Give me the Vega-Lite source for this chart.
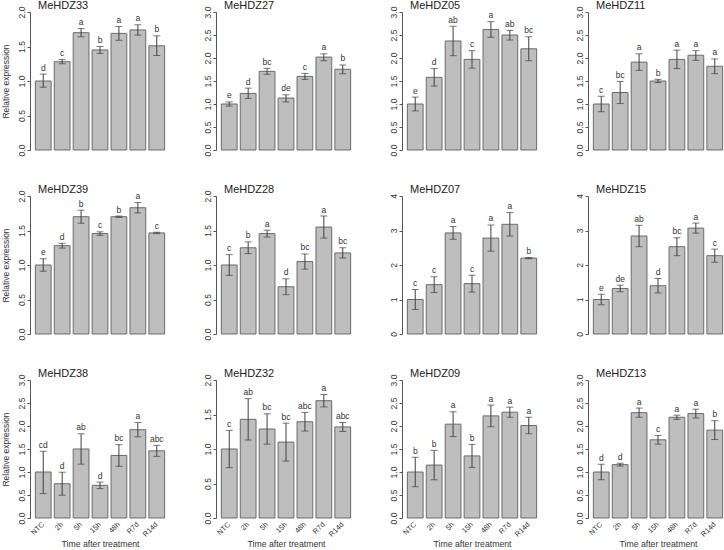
{
  "$schema": "https://vega.github.io/schema/vega-lite/v6.json",
  "padding": {"left": 1, "top": 0, "right": 0, "bottom": 0},
  "background": "white",
  "datasets": {
    "MeHDZ33": [
      {"time": "NTC", "mean": 1.00, "lo": 0.91, "hi": 1.10, "letter": "d"},
      {"time": "2h", "mean": 1.28, "lo": 1.25, "hi": 1.31, "letter": "c"},
      {"time": "5h", "mean": 1.70, "lo": 1.64, "hi": 1.76, "letter": "a"},
      {"time": "15h", "mean": 1.45, "lo": 1.40, "hi": 1.50, "letter": "b"},
      {"time": "48h", "mean": 1.69, "lo": 1.59, "hi": 1.79, "letter": "a"},
      {"time": "R7d", "mean": 1.74, "lo": 1.665, "hi": 1.815, "letter": "a"},
      {"time": "R14d", "mean": 1.51, "lo": 1.37, "hi": 1.655, "letter": "b"}
    ],
    "MeHDZ27": [
      {"time": "NTC", "mean": 1.00, "lo": 0.955, "hi": 1.045, "letter": "e"},
      {"time": "2h", "mean": 1.23, "lo": 1.12, "hi": 1.345, "letter": "d"},
      {"time": "5h", "mean": 1.71, "lo": 1.645, "hi": 1.775, "letter": "bc"},
      {"time": "15h", "mean": 1.13, "lo": 1.045, "hi": 1.20, "letter": "de"},
      {"time": "48h", "mean": 1.60, "lo": 1.535, "hi": 1.665, "letter": "c"},
      {"time": "R7d", "mean": 2.02, "lo": 1.94, "hi": 2.09, "letter": "a"},
      {"time": "R14d", "mean": 1.755, "lo": 1.66, "hi": 1.85, "letter": "b"}
    ],
    "MeHDZ05": [
      {"time": "NTC", "mean": 1.00, "lo": 0.85, "hi": 1.15, "letter": "e"},
      {"time": "2h", "mean": 1.58, "lo": 1.39, "hi": 1.77, "letter": "d"},
      {"time": "5h", "mean": 2.37, "lo": 2.05, "hi": 2.69, "letter": "ab"},
      {"time": "15h", "mean": 1.97, "lo": 1.78, "hi": 2.16, "letter": "c"},
      {"time": "48h", "mean": 2.62, "lo": 2.45, "hi": 2.79, "letter": "a"},
      {"time": "R7d", "mean": 2.50, "lo": 2.39, "hi": 2.60, "letter": "ab"},
      {"time": "R14d", "mean": 2.20, "lo": 1.94, "hi": 2.46, "letter": "bc"}
    ],
    "MeHDZ11": [
      {"time": "NTC", "mean": 1.00, "lo": 0.83, "hi": 1.17, "letter": "c"},
      {"time": "2h", "mean": 1.25, "lo": 1.01, "hi": 1.49, "letter": "bc"},
      {"time": "5h", "mean": 1.91, "lo": 1.73, "hi": 2.09, "letter": "a"},
      {"time": "15h", "mean": 1.50, "lo": 1.465, "hi": 1.535, "letter": "b"},
      {"time": "48h", "mean": 1.97, "lo": 1.77, "hi": 2.17, "letter": "a"},
      {"time": "R7d", "mean": 2.06, "lo": 1.95, "hi": 2.16, "letter": "a"},
      {"time": "R14d", "mean": 1.82, "lo": 1.66, "hi": 1.98, "letter": "a"}
    ],
    "MeHDZ39": [
      {"time": "NTC", "mean": 1.00, "lo": 0.91, "hi": 1.09, "letter": "e"},
      {"time": "2h", "mean": 1.28, "lo": 1.245, "hi": 1.315, "letter": "d"},
      {"time": "5h", "mean": 1.70, "lo": 1.605, "hi": 1.795, "letter": "b"},
      {"time": "15h", "mean": 1.455, "lo": 1.43, "hi": 1.48, "letter": "c"},
      {"time": "48h", "mean": 1.70, "lo": 1.69, "hi": 1.71, "letter": "b"},
      {"time": "R7d", "mean": 1.83, "lo": 1.755, "hi": 1.905, "letter": "a"},
      {"time": "R14d", "mean": 1.465, "lo": 1.455, "hi": 1.475, "letter": "c"}
    ],
    "MeHDZ28": [
      {"time": "NTC", "mean": 1.00, "lo": 0.85, "hi": 1.15, "letter": "c"},
      {"time": "2h", "mean": 1.25, "lo": 1.165, "hi": 1.335, "letter": "b"},
      {"time": "5h", "mean": 1.455, "lo": 1.405, "hi": 1.505, "letter": "a"},
      {"time": "15h", "mean": 0.685, "lo": 0.57, "hi": 0.80, "letter": "d"},
      {"time": "48h", "mean": 1.05, "lo": 0.94, "hi": 1.16, "letter": "bc"},
      {"time": "R7d", "mean": 1.55, "lo": 1.39, "hi": 1.71, "letter": "a"},
      {"time": "R14d", "mean": 1.175, "lo": 1.10, "hi": 1.25, "letter": "bc"}
    ],
    "MeHDZ07": [
      {"time": "NTC", "mean": 1.00, "lo": 0.71, "hi": 1.29, "letter": "c"},
      {"time": "2h", "mean": 1.43, "lo": 1.20, "hi": 1.66, "letter": "c"},
      {"time": "5h", "mean": 2.93, "lo": 2.745, "hi": 3.115, "letter": "a"},
      {"time": "15h", "mean": 1.46, "lo": 1.215, "hi": 1.705, "letter": "c"},
      {"time": "48h", "mean": 2.78, "lo": 2.40, "hi": 3.16, "letter": "a"},
      {"time": "R7d", "mean": 3.18, "lo": 2.84, "hi": 3.52, "letter": "a"},
      {"time": "R14d", "mean": 2.20, "lo": 2.18, "hi": 2.22, "letter": "b"}
    ],
    "MeHDZ15": [
      {"time": "NTC", "mean": 1.00, "lo": 0.85, "hi": 1.15, "letter": "e"},
      {"time": "2h", "mean": 1.32, "lo": 1.225, "hi": 1.415, "letter": "de"},
      {"time": "5h", "mean": 2.84, "lo": 2.53, "hi": 3.15, "letter": "ab"},
      {"time": "15h", "mean": 1.40, "lo": 1.19, "hi": 1.61, "letter": "d"},
      {"time": "48h", "mean": 2.53, "lo": 2.27, "hi": 2.79, "letter": "bc"},
      {"time": "R7d", "mean": 3.07, "lo": 2.925, "hi": 3.215, "letter": "a"},
      {"time": "R14d", "mean": 2.27, "lo": 2.08, "hi": 2.46, "letter": "c"}
    ],
    "MeHDZ38": [
      {"time": "NTC", "mean": 1.00, "lo": 0.53, "hi": 1.45, "letter": "cd"},
      {"time": "2h", "mean": 0.745, "lo": 0.495, "hi": 0.995, "letter": "d"},
      {"time": "5h", "mean": 1.50, "lo": 1.17, "hi": 1.83, "letter": "ab"},
      {"time": "15h", "mean": 0.71, "lo": 0.64, "hi": 0.78, "letter": "d"},
      {"time": "48h", "mean": 1.36, "lo": 1.125, "hi": 1.595, "letter": "bc"},
      {"time": "R7d", "mean": 1.92, "lo": 1.765, "hi": 2.075, "letter": "a"},
      {"time": "R14d", "mean": 1.46, "lo": 1.34, "hi": 1.58, "letter": "abc"}
    ],
    "MeHDZ32": [
      {"time": "NTC", "mean": 1.00, "lo": 0.73, "hi": 1.27, "letter": "c"},
      {"time": "2h", "mean": 1.43, "lo": 1.13, "hi": 1.73, "letter": "ab"},
      {"time": "5h", "mean": 1.29, "lo": 1.07, "hi": 1.51, "letter": "bc"},
      {"time": "15h", "mean": 1.10, "lo": 0.825, "hi": 1.375, "letter": "bc"},
      {"time": "48h", "mean": 1.395, "lo": 1.26, "hi": 1.53, "letter": "abc"},
      {"time": "R7d", "mean": 1.70, "lo": 1.61, "hi": 1.79, "letter": "a"},
      {"time": "R14d", "mean": 1.32, "lo": 1.255, "hi": 1.385, "letter": "abc"}
    ],
    "MeHDZ09": [
      {"time": "NTC", "mean": 1.00, "lo": 0.68, "hi": 1.32, "letter": "b"},
      {"time": "2h", "mean": 1.15, "lo": 0.83, "hi": 1.47, "letter": "b"},
      {"time": "5h", "mean": 2.04, "lo": 1.77, "hi": 2.31, "letter": "a"},
      {"time": "15h", "mean": 1.35, "lo": 1.10, "hi": 1.60, "letter": "b"},
      {"time": "48h", "mean": 2.22, "lo": 1.985, "hi": 2.455, "letter": "a"},
      {"time": "R7d", "mean": 2.30, "lo": 2.19, "hi": 2.41, "letter": "a"},
      {"time": "R14d", "mean": 2.01, "lo": 1.83, "hi": 2.19, "letter": "a"}
    ],
    "MeHDZ13": [
      {"time": "NTC", "mean": 1.00, "lo": 0.83, "hi": 1.17, "letter": "d"},
      {"time": "2h", "mean": 1.16, "lo": 1.13, "hi": 1.19, "letter": "d"},
      {"time": "5h", "mean": 2.29, "lo": 2.19, "hi": 2.39, "letter": "a"},
      {"time": "15h", "mean": 1.70, "lo": 1.605, "hi": 1.795, "letter": "c"},
      {"time": "48h", "mean": 2.19, "lo": 2.145, "hi": 2.235, "letter": "a"},
      {"time": "R7d", "mean": 2.27, "lo": 2.175, "hi": 2.365, "letter": "a"},
      {"time": "R14d", "mean": 1.91, "lo": 1.705, "hi": 2.115, "letter": "b"}
    ]
  },
  "columns": 4,
  "spacing": {"row": 46, "column": 46},
  "bounds": "flush",
  "concat": [
    {"title": {"text": "MeHDZ33", "offset": -5}, "data": {"name": "MeHDZ33"}, "width": 140, "height": 138,
     "encoding": {"x": {"field": "time", "type": "nominal", "sort": ["NTC","2h","5h","15h","48h","R7d","R14d"], "scale": {"paddingInner": 0.1667, "paddingOuter": 0.283}, "axis": null}},
     "layer": [
       {"mark": {"type": "bar", "fill": "#bebebe", "stroke": "#6b6b6b", "strokeWidth": 1}, "encoding": {"y": {"field": "mean", "type": "quantitative", "title": "Relative expression", "scale": {"domain": [0, 2]}, "axis": {"values": [0, 0.5, 1, 1.5, 2], "tickCount": 20, "format": ".1f"}}}},
       {"mark": {"type": "errorbar", "ticks": {"size": 7}, "color": "#404040", "thickness": 1}, "encoding": {"y": {"field": "lo", "type": "quantitative", "title": "Relative expression"}, "y2": {"field": "hi"}}},
       {"mark": {"type": "text", "baseline": "alphabetic", "dy": -3.5, "fontSize": 8.5, "font": "Liberation Sans", "color": "#333333"}, "encoding": {"y": {"field": "hi", "type": "quantitative", "title": "Relative expression"}, "text": {"field": "letter"}}}
     ]},
    {"title": {"text": "MeHDZ27", "offset": -5}, "data": {"name": "MeHDZ27"}, "width": 140, "height": 138,
     "encoding": {"x": {"field": "time", "type": "nominal", "sort": ["NTC","2h","5h","15h","48h","R7d","R14d"], "scale": {"paddingInner": 0.1667, "paddingOuter": 0.283}, "axis": null}},
     "layer": [
       {"mark": {"type": "bar", "fill": "#bebebe", "stroke": "#6b6b6b", "strokeWidth": 1}, "encoding": {"y": {"field": "mean", "type": "quantitative", "title": null, "scale": {"domain": [0, 3]}, "axis": {"values": [0, 0.5, 1, 1.5, 2, 2.5, 3], "tickCount": 20, "format": ".1f", "title": null}}}},
       {"mark": {"type": "errorbar", "ticks": {"size": 7}, "color": "#404040", "thickness": 1}, "encoding": {"y": {"field": "lo", "type": "quantitative", "title": null}, "y2": {"field": "hi"}}},
       {"mark": {"type": "text", "baseline": "alphabetic", "dy": -3.5, "fontSize": 8.5, "font": "Liberation Sans", "color": "#333333"}, "encoding": {"y": {"field": "hi", "type": "quantitative", "title": null}, "text": {"field": "letter"}}}
     ]},
    {"title": {"text": "MeHDZ05", "offset": -5}, "data": {"name": "MeHDZ05"}, "width": 140, "height": 138,
     "encoding": {"x": {"field": "time", "type": "nominal", "sort": ["NTC","2h","5h","15h","48h","R7d","R14d"], "scale": {"paddingInner": 0.1667, "paddingOuter": 0.283}, "axis": null}},
     "layer": [
       {"mark": {"type": "bar", "fill": "#bebebe", "stroke": "#6b6b6b", "strokeWidth": 1}, "encoding": {"y": {"field": "mean", "type": "quantitative", "title": null, "scale": {"domain": [0, 3]}, "axis": {"values": [0, 0.5, 1, 1.5, 2, 2.5, 3], "tickCount": 20, "format": ".1f", "title": null}}}},
       {"mark": {"type": "errorbar", "ticks": {"size": 7}, "color": "#404040", "thickness": 1}, "encoding": {"y": {"field": "lo", "type": "quantitative", "title": null}, "y2": {"field": "hi"}}},
       {"mark": {"type": "text", "baseline": "alphabetic", "dy": -3.5, "fontSize": 8.5, "font": "Liberation Sans", "color": "#333333"}, "encoding": {"y": {"field": "hi", "type": "quantitative", "title": null}, "text": {"field": "letter"}}}
     ]},
    {"title": {"text": "MeHDZ11", "offset": -5}, "data": {"name": "MeHDZ11"}, "width": 140, "height": 138,
     "encoding": {"x": {"field": "time", "type": "nominal", "sort": ["NTC","2h","5h","15h","48h","R7d","R14d"], "scale": {"paddingInner": 0.1667, "paddingOuter": 0.283}, "axis": null}},
     "layer": [
       {"mark": {"type": "bar", "fill": "#bebebe", "stroke": "#6b6b6b", "strokeWidth": 1}, "encoding": {"y": {"field": "mean", "type": "quantitative", "title": null, "scale": {"domain": [0, 3]}, "axis": {"values": [0, 0.5, 1, 1.5, 2, 2.5, 3], "tickCount": 20, "format": ".1f", "title": null}}}},
       {"mark": {"type": "errorbar", "ticks": {"size": 7}, "color": "#404040", "thickness": 1}, "encoding": {"y": {"field": "lo", "type": "quantitative", "title": null}, "y2": {"field": "hi"}}},
       {"mark": {"type": "text", "baseline": "alphabetic", "dy": -3.5, "fontSize": 8.5, "font": "Liberation Sans", "color": "#333333"}, "encoding": {"y": {"field": "hi", "type": "quantitative", "title": null}, "text": {"field": "letter"}}}
     ]},
    {"title": {"text": "MeHDZ39", "offset": -5}, "data": {"name": "MeHDZ39"}, "width": 140, "height": 138,
     "encoding": {"x": {"field": "time", "type": "nominal", "sort": ["NTC","2h","5h","15h","48h","R7d","R14d"], "scale": {"paddingInner": 0.1667, "paddingOuter": 0.283}, "axis": null}},
     "layer": [
       {"mark": {"type": "bar", "fill": "#bebebe", "stroke": "#6b6b6b", "strokeWidth": 1}, "encoding": {"y": {"field": "mean", "type": "quantitative", "title": "Relative expression", "scale": {"domain": [0, 2]}, "axis": {"values": [0, 0.5, 1, 1.5, 2], "tickCount": 20, "format": ".1f"}}}},
       {"mark": {"type": "errorbar", "ticks": {"size": 7}, "color": "#404040", "thickness": 1}, "encoding": {"y": {"field": "lo", "type": "quantitative", "title": "Relative expression"}, "y2": {"field": "hi"}}},
       {"mark": {"type": "text", "baseline": "alphabetic", "dy": -3.5, "fontSize": 8.5, "font": "Liberation Sans", "color": "#333333"}, "encoding": {"y": {"field": "hi", "type": "quantitative", "title": "Relative expression"}, "text": {"field": "letter"}}}
     ]},
    {"title": {"text": "MeHDZ28", "offset": -5}, "data": {"name": "MeHDZ28"}, "width": 140, "height": 138,
     "encoding": {"x": {"field": "time", "type": "nominal", "sort": ["NTC","2h","5h","15h","48h","R7d","R14d"], "scale": {"paddingInner": 0.1667, "paddingOuter": 0.283}, "axis": null}},
     "layer": [
       {"mark": {"type": "bar", "fill": "#bebebe", "stroke": "#6b6b6b", "strokeWidth": 1}, "encoding": {"y": {"field": "mean", "type": "quantitative", "title": null, "scale": {"domain": [0, 2]}, "axis": {"values": [0, 0.5, 1, 1.5, 2], "tickCount": 20, "format": ".1f", "title": null}}}},
       {"mark": {"type": "errorbar", "ticks": {"size": 7}, "color": "#404040", "thickness": 1}, "encoding": {"y": {"field": "lo", "type": "quantitative", "title": null}, "y2": {"field": "hi"}}},
       {"mark": {"type": "text", "baseline": "alphabetic", "dy": -3.5, "fontSize": 8.5, "font": "Liberation Sans", "color": "#333333"}, "encoding": {"y": {"field": "hi", "type": "quantitative", "title": null}, "text": {"field": "letter"}}}
     ]},
    {"title": {"text": "MeHDZ07", "offset": -1.5}, "data": {"name": "MeHDZ07"}, "width": 140, "height": 138,
     "encoding": {"x": {"field": "time", "type": "nominal", "sort": ["NTC","2h","5h","15h","48h","R7d","R14d"], "scale": {"paddingInner": 0.1667, "paddingOuter": 0.283}, "axis": null}},
     "layer": [
       {"mark": {"type": "bar", "fill": "#bebebe", "stroke": "#6b6b6b", "strokeWidth": 1}, "encoding": {"y": {"field": "mean", "type": "quantitative", "title": null, "scale": {"domain": [0, 4]}, "axis": {"values": [0, 1, 2, 3, 4], "tickCount": 20, "format": "d", "title": null}}}},
       {"mark": {"type": "errorbar", "ticks": {"size": 7}, "color": "#404040", "thickness": 1}, "encoding": {"y": {"field": "lo", "type": "quantitative", "title": null}, "y2": {"field": "hi"}}},
       {"mark": {"type": "text", "baseline": "alphabetic", "dy": -3.5, "fontSize": 8.5, "font": "Liberation Sans", "color": "#333333"}, "encoding": {"y": {"field": "hi", "type": "quantitative", "title": null}, "text": {"field": "letter"}}}
     ]},
    {"title": {"text": "MeHDZ15", "offset": -1.5}, "data": {"name": "MeHDZ15"}, "width": 140, "height": 138,
     "encoding": {"x": {"field": "time", "type": "nominal", "sort": ["NTC","2h","5h","15h","48h","R7d","R14d"], "scale": {"paddingInner": 0.1667, "paddingOuter": 0.283}, "axis": null}},
     "layer": [
       {"mark": {"type": "bar", "fill": "#bebebe", "stroke": "#6b6b6b", "strokeWidth": 1}, "encoding": {"y": {"field": "mean", "type": "quantitative", "title": null, "scale": {"domain": [0, 4]}, "axis": {"values": [0, 1, 2, 3, 4], "tickCount": 20, "format": "d", "title": null}}}},
       {"mark": {"type": "errorbar", "ticks": {"size": 7}, "color": "#404040", "thickness": 1}, "encoding": {"y": {"field": "lo", "type": "quantitative", "title": null}, "y2": {"field": "hi"}}},
       {"mark": {"type": "text", "baseline": "alphabetic", "dy": -3.5, "fontSize": 8.5, "font": "Liberation Sans", "color": "#333333"}, "encoding": {"y": {"field": "hi", "type": "quantitative", "title": null}, "text": {"field": "letter"}}}
     ]},
    {"title": {"text": "MeHDZ38", "offset": -5}, "data": {"name": "MeHDZ38"}, "width": 140, "height": 138,
     "encoding": {"x": {"field": "time", "type": "nominal", "sort": ["NTC","2h","5h","15h","48h","R7d","R14d"], "scale": {"paddingInner": 0.1667, "paddingOuter": 0.283}, "title": "Time after treatment"}},
     "layer": [
       {"mark": {"type": "bar", "fill": "#bebebe", "stroke": "#6b6b6b", "strokeWidth": 1}, "encoding": {"y": {"field": "mean", "type": "quantitative", "title": "Relative expression", "scale": {"domain": [0, 3]}, "axis": {"values": [0, 0.5, 1, 1.5, 2, 2.5, 3], "tickCount": 20, "format": ".1f"}}}},
       {"mark": {"type": "errorbar", "ticks": {"size": 7}, "color": "#404040", "thickness": 1}, "encoding": {"y": {"field": "lo", "type": "quantitative", "title": "Relative expression"}, "y2": {"field": "hi"}}},
       {"mark": {"type": "text", "baseline": "alphabetic", "dy": -3.5, "fontSize": 8.5, "font": "Liberation Sans", "color": "#333333"}, "encoding": {"y": {"field": "hi", "type": "quantitative", "title": "Relative expression"}, "text": {"field": "letter"}}}
     ]},
    {"title": {"text": "MeHDZ32", "offset": -5}, "data": {"name": "MeHDZ32"}, "width": 140, "height": 138,
     "encoding": {"x": {"field": "time", "type": "nominal", "sort": ["NTC","2h","5h","15h","48h","R7d","R14d"], "scale": {"paddingInner": 0.1667, "paddingOuter": 0.283}, "title": "Time after treatment"}},
     "layer": [
       {"mark": {"type": "bar", "fill": "#bebebe", "stroke": "#6b6b6b", "strokeWidth": 1}, "encoding": {"y": {"field": "mean", "type": "quantitative", "title": null, "scale": {"domain": [0, 2]}, "axis": {"values": [0, 0.5, 1, 1.5, 2], "tickCount": 20, "format": ".1f", "title": null}}}},
       {"mark": {"type": "errorbar", "ticks": {"size": 7}, "color": "#404040", "thickness": 1}, "encoding": {"y": {"field": "lo", "type": "quantitative", "title": null}, "y2": {"field": "hi"}}},
       {"mark": {"type": "text", "baseline": "alphabetic", "dy": -3.5, "fontSize": 8.5, "font": "Liberation Sans", "color": "#333333"}, "encoding": {"y": {"field": "hi", "type": "quantitative", "title": null}, "text": {"field": "letter"}}}
     ]},
    {"title": {"text": "MeHDZ09", "offset": -5}, "data": {"name": "MeHDZ09"}, "width": 140, "height": 138,
     "encoding": {"x": {"field": "time", "type": "nominal", "sort": ["NTC","2h","5h","15h","48h","R7d","R14d"], "scale": {"paddingInner": 0.1667, "paddingOuter": 0.283}, "title": "Time after treatment"}},
     "layer": [
       {"mark": {"type": "bar", "fill": "#bebebe", "stroke": "#6b6b6b", "strokeWidth": 1}, "encoding": {"y": {"field": "mean", "type": "quantitative", "title": null, "scale": {"domain": [0, 3]}, "axis": {"values": [0, 0.5, 1, 1.5, 2, 2.5, 3], "tickCount": 20, "format": ".1f", "title": null}}}},
       {"mark": {"type": "errorbar", "ticks": {"size": 7}, "color": "#404040", "thickness": 1}, "encoding": {"y": {"field": "lo", "type": "quantitative", "title": null}, "y2": {"field": "hi"}}},
       {"mark": {"type": "text", "baseline": "alphabetic", "dy": -3.5, "fontSize": 8.5, "font": "Liberation Sans", "color": "#333333"}, "encoding": {"y": {"field": "hi", "type": "quantitative", "title": null}, "text": {"field": "letter"}}}
     ]},
    {"title": {"text": "MeHDZ13", "offset": -5}, "data": {"name": "MeHDZ13"}, "width": 140, "height": 138,
     "encoding": {"x": {"field": "time", "type": "nominal", "sort": ["NTC","2h","5h","15h","48h","R7d","R14d"], "scale": {"paddingInner": 0.1667, "paddingOuter": 0.283}, "title": "Time after treatment"}},
     "layer": [
       {"mark": {"type": "bar", "fill": "#bebebe", "stroke": "#6b6b6b", "strokeWidth": 1}, "encoding": {"y": {"field": "mean", "type": "quantitative", "title": null, "scale": {"domain": [0, 3]}, "axis": {"values": [0, 0.5, 1, 1.5, 2, 2.5, 3], "tickCount": 20, "format": ".1f", "title": null}}}},
       {"mark": {"type": "errorbar", "ticks": {"size": 7}, "color": "#404040", "thickness": 1}, "encoding": {"y": {"field": "lo", "type": "quantitative", "title": null}, "y2": {"field": "hi"}}},
       {"mark": {"type": "text", "baseline": "alphabetic", "dy": -3.5, "fontSize": 8.5, "font": "Liberation Sans", "color": "#333333"}, "encoding": {"y": {"field": "hi", "type": "quantitative", "title": null}, "text": {"field": "letter"}}}
     ]}
  ],
  "config": {
    "font": "Liberation Sans",
    "view": {"stroke": null},
    "title": {"fontSize": 11, "fontWeight": "normal", "anchor": "start", "frame": "group", "baseline": "alphabetic", "dx": 8, "color": "#222222", "font": "Liberation Sans"},
    "axis": {"grid": false, "domainColor": "#555555", "tickColor": "#555555", "labelColor": "#333333", "titleColor": "#333333", "labelFont": "Liberation Sans", "titleFont": "Liberation Sans", "titleFontWeight": "normal", "labelOverlap": false},
    "axisY": {"labelAngle": 270, "labelAlign": "center", "labelBaseline": "bottom", "tickSize": 3, "labelPadding": 1, "labelFontSize": 8.5, "titleFontSize": 8.5, "titlePadding": 7, "labelOverlap": false},
    "axisX": {"labelAngle": -45, "labelAlign": "right", "labelBaseline": "middle", "ticks": false, "domain": false, "labelPadding": 5, "labelFontSize": 7.3, "titleFontSize": 8.7, "titlePadding": 2}
  }
}
